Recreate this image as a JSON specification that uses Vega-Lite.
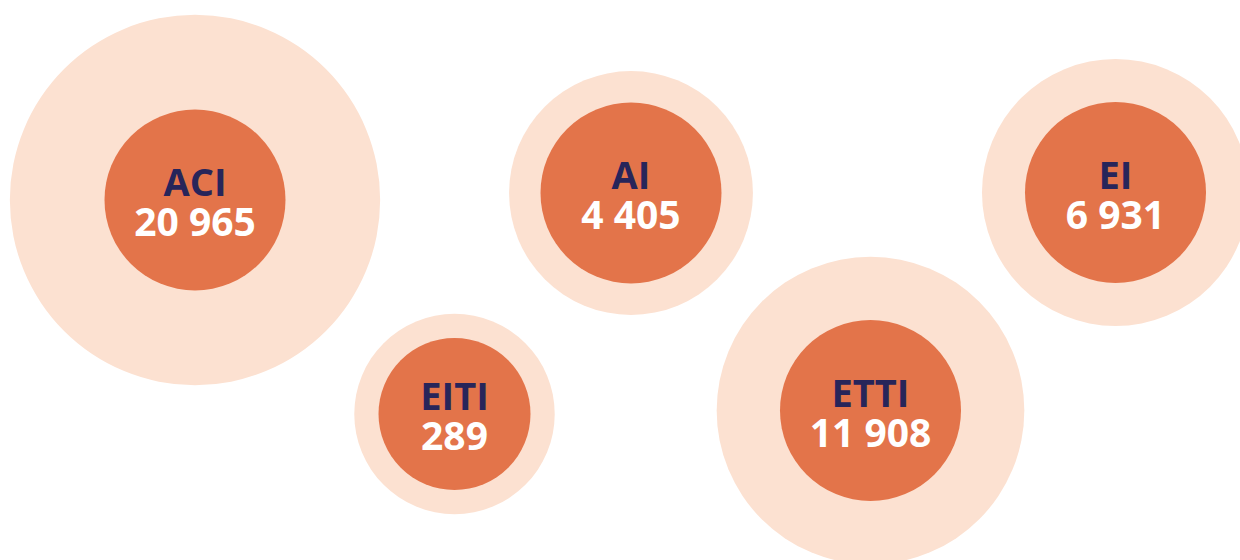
{
  "$schema": "https://vega.github.io/schema/vega-lite/v6.json",
  "autosize": {"type": "none"},
  "width": 1240,
  "height": 560,
  "padding": 0,
  "background": "white",
  "config": {
    "view": {"stroke": null},
    "locale": {"number": {"decimal": ",", "thousands": " ", "grouping": [3], "currency": ["", " €"]}}
  },
  "data": {
    "values": [
      {"name": "ACI", "value": 20965, "gx": 19.5, "gy": 20.0},
      {"name": "AI", "value": 4405, "gx": 63.1, "gy": 19.3},
      {"name": "EI", "value": 6931, "gx": 111.55, "gy": 19.25},
      {"name": "EITI", "value": 289, "gx": 45.45, "gy": 41.4},
      {"name": "ETTI", "value": 11908, "gx": 87.05, "gy": 41.05}
    ]
  },
  "encoding": {
    "x": {"field": "gx", "type": "quantitative", "axis": null, "scale": {"domain": [0, 124], "nice": false, "zero": false}},
    "y": {"field": "gy", "type": "quantitative", "axis": null, "scale": {"domain": [0, 56], "nice": false, "zero": false, "reverse": true}}
  },
  "layer": [
    {
      "mark": {"type": "circle", "color": "#fce1d1", "opacity": 1},
      "encoding": {
        "size": {"field": "value", "type": "quantitative", "legend": null, "scale": {"type": "linear", "domain": [0, 21000], "range": [38821, 137279], "zero": false}}
      }
    },
    {
      "mark": {"type": "circle", "color": "#e3744a", "opacity": 1},
      "encoding": {
        "size": {"field": "value", "type": "quantitative", "legend": null, "scale": {"type": "threshold", "domain": [1000], "range": [23104, 32761]}}
      }
    },
    {
      "mark": {"type": "text", "color": "#27255a", "font": "Open Sans", "fontWeight": "bold", "fontSize": 38, "baseline": "alphabetic", "align": "center", "dy": -4},
      "encoding": {"text": {"field": "name", "type": "nominal"}}
    },
    {
      "mark": {"type": "text", "color": "#ffffff", "font": "Open Sans", "fontWeight": "bold", "fontSize": 39, "baseline": "alphabetic", "align": "center", "dy": 36},
      "encoding": {"text": {"field": "value", "type": "quantitative", "format": ",d"}}
    }
  ],
  "resolve": {"scale": {"size": "independent"}}
}
